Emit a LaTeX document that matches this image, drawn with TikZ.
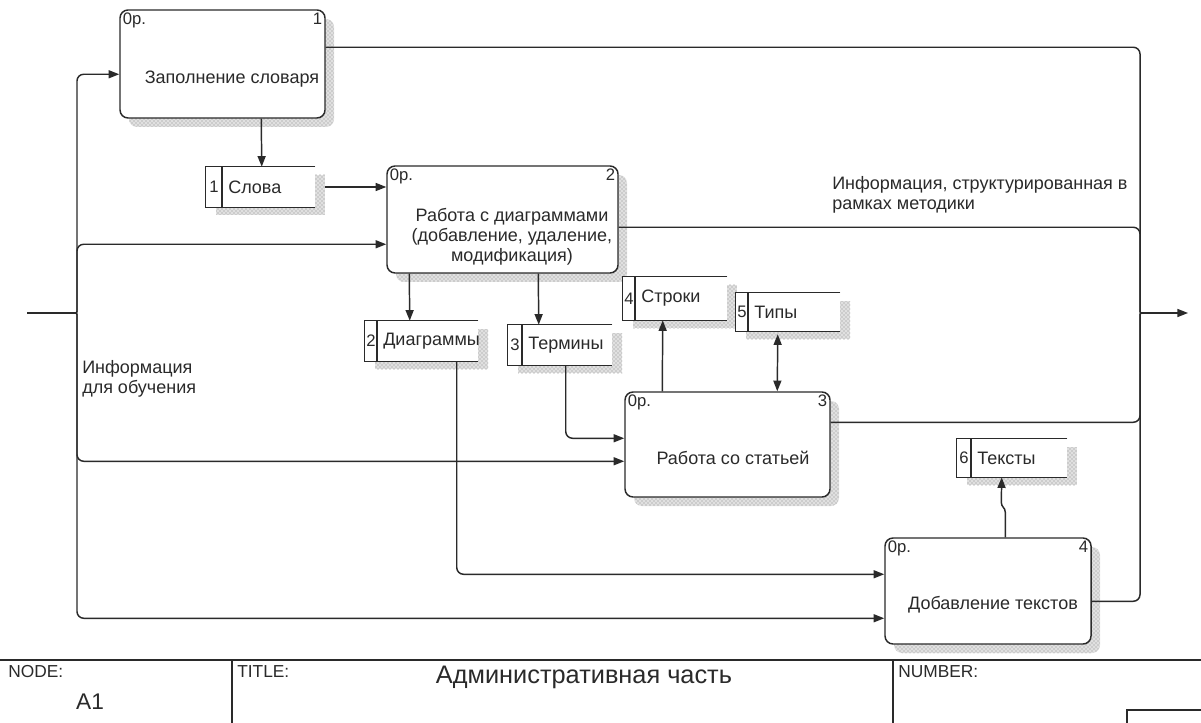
\documentclass[tikz,border=0pt]{standalone}
\usepackage{fontspec}
\setmainfont{Liberation Sans}
\usetikzlibrary{arrows.meta,fit,calc,patterns}
\definecolor{ink}{HTML}{2A2A2A}
\definecolor{shadowgray}{HTML}{8A8A8A}
\tikzset{
  ln/.style={draw=ink, line width=1.1pt, rounded corners=5pt},
  arr/.style={ln, -{Triangle[length=8pt,width=6pt]}},
  biarr/.style={ln, {Triangle[length=8pt,width=6pt]}-{Triangle[length=8pt,width=6pt]}},
  frame/.style={draw=ink, line width=1.1pt},
  actbox/.style={draw=ink, line width=1.1pt, rounded corners=6pt, fill=white, inner sep=0pt},
  corner/.style={font=\fontsize{12.5}{14}\selectfont, text=ink, inner sep=2.5pt},
  lab/.style={font=\fontsize{13.5}{15}\selectfont, text=ink, inner sep=0pt},
  snum/.style={font=\fontsize{12.5}{14}\selectfont, text=ink, inner sep=0pt},
  foot/.style={font=\fontsize{13}{15}\selectfont, text=ink, inner sep=0pt},
  shadowfill/.style={fill=black!12, postaction={pattern=crosshatch dots, pattern color=shadowgray}},
}
\newcommand\idefbox[6]{%
  \path[shadowfill, rounded corners=6pt] (#2+9,#3+9) rectangle (#4+9,#5+9);
  \coordinate (#1nw) at (#2,#3); \coordinate (#1se) at (#4,#5);
  \node[actbox, fit=(#1nw)(#1se)] (#1) {};
  \node[corner, anchor=north west] (#1o) at (#1.north west) {0р.};
  \node[corner, anchor=north east] (#1n) at (#1.north east) {#6};
}
\newcommand\idefstore[8]{%
  \path[shadowfill] (#2+10,#3+8) rectangle (#4+10,#5+8);
  \coordinate (#1nw) at (#2,#3); \coordinate (#1se) at (#4,#5);
  \node[fit=(#1nw)(#1se), inner sep=0pt, fill=white] (#1) {};
  \draw[frame] (#1.north east) -- (#1.north west) -- (#1.south west) -- (#1.south east);
  \draw[frame] (#6,#3) -- (#6,#5);
  \node[snum] (#1n) at ({(#2+#6)/2},{(#3+#5)/2}) {#7};
  \node[lab, anchor=west] (#1t) at (#6+6,{(#3+#5)/2}) {#8};
}
\begin{document}
\begin{tikzpicture}[x=0.75pt,y=-0.75pt]
\useasboundingbox (0,0) rectangle (1201,723);
\fill[white] (0,0) rectangle (1201,723);

% activity boxes
\idefbox{b1}{120}{10}{325}{118}{1}
\idefbox{b2}{387}{166}{618}{273}{2}
\idefbox{b3}{625}{392}{830}{497}{3}
\idefbox{b4}{885}{538}{1091}{644}{4}
\node[lab] (b1t) at (232,79) {Заполнение словаря};
\node[lab, align=center] (b2t) at (512,237) {Работа с диаграммами\\(добавление, удаление,\\модификация)};
\node[lab] (b3t) at (733,458) {Работа со статьей};
\node[lab] (b4t) at (993,605) {Добавление текстов};

% data stores
\idefstore{s1}{206}{167}{315}{207}{222}{1}{Слова}
\idefstore{s2}{365}{321}{478}{361}{377}{2}{Диаграммы}
\idefstore{s3}{508}{325}{612}{365}{522}{3}{Термины}
\idefstore{s4}{623}{277}{727}{320}{635}{4}{Строки}
\idefstore{s5}{736}{293}{840}{331}{748}{5}{Типы}
\idefstore{s6}{957}{439}{1067}{477}{971}{6}{Тексты}

% left bracket (inputs)
\coordinate (inL) at (27,313);
\coordinate (tipL) at (70,313);
\draw[ln] (inL) -- (tipL);
\draw[arr] (tipL) .. controls (77,313) .. (77,305) |- ($(b1.north west)+(0,65)$);
\draw[arr] (tipL) .. controls (77,313) .. (77,305) |- ($(b2.north west)+(0,79)$);
\draw[arr] (tipL) .. controls (77,313) .. (77,321) |- ($(b3.north west)+(0,70)$);
\draw[arr] (tipL) .. controls (77,313) .. (77,321) |- ($(b4.north west)+(0,81)$);
\node[lab, anchor=west, align=left] (lin) at (82,379) {Информация\\для обучения};

% internal connectors
\draw[arr] ($(b1.south west)+(142,0)$) -- ($(s1.north west)+(56,0)$);
\draw[arr] ($(s1.east)+(10,0)$) -- (b2.west |- s1.east);
\draw[arr] ($(b2.south west)+(23,0)$) -- ($(s2.north west)+(45,0)$);
\draw[arr] ($(b2.south west)+(152,0)$) -- ($(s3.north west)+(31,0)$);
\draw[arr] ($(s2.south west)+(92,0)$) |- ($(b4.north west)+(0,37)$);
\draw[arr] ($(s3.south west)+(58,0)$) |- ($(b3.north west)+(0,47)$);
\draw[arr] ($(b3.north west)+(38,0)$) -- ($(s4.south west)+(40,0)$);
\draw[biarr] ($(s5.south west)+(42,3)$) -- ($(b3.north west)+(153,0)$);
\draw[arr, rounded corners=0pt] ($(b4.north west)+(121,0)$) -- ++(0,-25)
   .. controls +(0,-5) and +(0,5) .. ++(-4,-10) -- ($(s6.south west)+(45,0)$);

% right bracket (outputs)
\coordinate (tipR) at (1147,313);
\coordinate (outR) at (1188,313);
\draw[ln] ($(b1.north east)+(0,38)$) -| (1140,305) .. controls (1140,313) .. (tipR);
\draw[ln] ($(b2.north east)+(0,62)$) -| (1140,305) .. controls (1140,313) .. (tipR);
\draw[ln] ($(b3.north east)+(0,31)$) -| (1140,321) .. controls (1140,313) .. (tipR);
\draw[ln] ($(b4.north east)+(0,64)$) -| (1140,321) .. controls (1140,313) .. (tipR);
\draw[arr] (tipR) -- (outR);
\node[lab, anchor=west, align=left] (lout) at (832,195) {Информация, структурированная в\\рамках методики};

% footer
\draw[frame] (0,660) -- (1201,660);
\draw[frame] (232,660) -- (232,723);
\draw[frame] (893,660) -- (893,723);
\draw[frame] (1127,723) -- (1127,710) -- (1201,710);
\node[foot, anchor=north west] (fnode) at (8,665) {NODE:};
\node[foot, anchor=north west] (ftitle) at (237,665) {TITLE:};
\node[foot, anchor=north west] (fnum) at (898,665) {NUMBER:};
\node[font=\fontsize{17}{19}\selectfont, text=ink, inner sep=0pt] (fa1) at (90,702) {A1};
\node[font=\fontsize{19}{21}\selectfont, text=ink, inner sep=0pt] (ftt) at (584,677) {Административная часть};
\end{tikzpicture}
\end{document}
